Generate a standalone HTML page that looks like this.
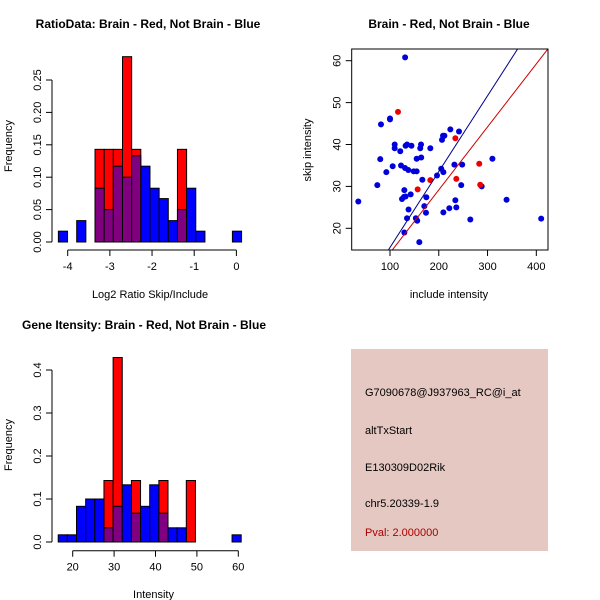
<!DOCTYPE html>
<html><head><meta charset="utf-8"><style>
body{margin:0;background:#fff}
svg{display:block;font-family:"Liberation Sans",sans-serif}
</style></head><body>
<svg id="c" width="600" height="600" viewBox="0 0 600 600" xmlns="http://www.w3.org/2000/svg"></svg>
<script>
// ---- Ratio histogram data (bin index -> frequency) ----
const ratioBlue = [0.0167,0,0.033,0,0.083,0.05,0.117,0.1,0.133,0.117,0.083,0.067,0.033,0.05,0.083,0.0167,0,0,0,0.0167];
const ratioRed  = [0,0,0,0,0.143,0.143,0.143,0.286,0.143,0,0,0,0,0.143,0,0,0,0,0,0];
const ratioBinStart = -4.221, ratioBinWidth = 0.2172;
const ratioXTicks = [-4,-3,-2,-1,0];
const ratioYTicks = [0,0.05,0.10,0.15,0.20,0.25];
const ratioYLabels = ["0.00","0.05","0.10","0.15","0.20","0.25"];
// ---- Intensity histogram data ----
const intBlue = [0.0167,0.0167,0.083,0.1,0.1,0.033,0.083,0.133,0.067,0.083,0.133,0.067,0.033,0.033,0,0,0,0,0,0.0167];
const intRed  = [0,0,0,0,0,0.143,0.429,0,0.143,0,0,0.143,0,0,0.143,0,0,0,0,0];
const intBinStart = 16.5, intBinWidth = 2.21;
const intXTicks = [20,30,40,50,60];
const intYTicks = [0,0.1,0.2,0.3,0.4];
const intYLabels = ["0.0","0.1","0.2","0.3","0.4"];
// ---- Scatter data ----
const blueX = [35,131,81.5,100,100,109.6,109.6,132,135,144,163.6,162,182.7,80,121,105.5,92.5,74,122.6,130.8,137.6,148.5,154.7,154.7,164,166.3,196.4,205,209.4,206.6,208.7,211.5,223.7,241.5,232,248,246,288,310,339,410,129.4,128.7,132,124.6,138,142.4,134.9,153,155.8,129.4,160.1,170.4,174.5,173.8,209.4,221.6,234,236,264.7];
const blueY = [26.4,60.8,44.8,46.2,46.0,40,39.1,39.7,40,39.7,40,39.1,39.1,36.5,38.4,34.8,33.4,30.3,35,34.4,33.9,33.6,33.6,36.6,36.9,31.6,32.6,34.2,33.4,41.1,42.1,42.1,43.6,43.1,35.2,35.2,30.3,30,36.6,26.8,22.3,29.1,27.5,27.6,27,24.5,28.1,22.4,22.4,21.8,19,16.7,25.3,27.4,23.7,23.8,24.8,26.7,25,22.1];
const redX = [116.4,234,156.7,182.7,236,283,285];
const redY = [47.8,41.5,29.3,31.5,31.8,35.4,30.4];
const blueLine = {a:-2.67,b:0.181};
const redLine = {a:-0.92,b:0.1504};
const scXTicks = [100,200,300,400];
const scYTicks = [20,30,40,50,60];

const svg = document.getElementById('c');
const NS = 'http://www.w3.org/2000/svg';
function mk(tag, attrs, parent){ const e=document.createElementNS(NS,tag); for(const k in attrs) e.setAttribute(k,attrs[k]); (parent||svg).appendChild(e); return e; }
function txt(s,x,y,opts,parent){ const t=mk('text',Object.assign({x:x,y:y,'font-size':11,'text-anchor':'middle',fill:'#000'},opts||{}),parent); t.textContent=s; return t; }

function hist(cfg){
  const g = mk('g',{});
  
  
  const sx = v => cfg.x0 + (v - cfg.xv0) * cfg.kx;
  const sy = v => cfg.base - v * cfg.ky;
  cfg.red.forEach((h,i)=>{ if(h<=0) return;
    const x1=sx(cfg.bs+i*cfg.bw), x2=sx(cfg.bs+(i+1)*cfg.bw);
    const r=mk('rect',{x:x1,y:sy(h),width:x2-x1,height:cfg.base-sy(h),fill:'#ff0000',stroke:'#000','stroke-width':1},g);
    
    
  });
  cfg.blue.forEach((h,i)=>{ if(h<=0) return;
    const x1=sx(cfg.bs+i*cfg.bw), x2=sx(cfg.bs+(i+1)*cfg.bw);
    const col = cfg.red[i]>0 ? '#800080' : '#0000ff';
    const r=mk('rect',{x:x1,y:sy(h),width:x2-x1,height:cfg.base-sy(h),fill:col,stroke:'#000','stroke-width':1},g);
    
    
  });
  const xa = mk('g',{},g);
  
  
  mk('line',{x1:sx(cfg.xt[0]),x2:sx(cfg.xt[cfg.xt.length-1]),y1:cfg.xay,y2:cfg.xay,stroke:'#000'},xa);
  cfg.xt.forEach(v=>{ mk('line',{x1:sx(v),x2:sx(v),y1:cfg.xay,y2:cfg.xay+6,stroke:'#000'},xa); txt(String(v),sx(v),cfg.xay+20,{},xa); });
  const ya = mk('g',{},g);
  
  
  mk('line',{x1:cfg.yax,x2:cfg.yax,y1:sy(cfg.yt[0]),y2:sy(cfg.yt[cfg.yt.length-1]),stroke:'#000'},ya);
  cfg.yt.forEach((v,i)=>{ mk('line',{x1:cfg.yax-6,x2:cfg.yax,y1:sy(v),y2:sy(v),stroke:'#000'},ya);
    txt(cfg.yl[i],0,0,{transform:`translate(${cfg.yax-11},${sy(v)}) rotate(-90)`},ya); });
  const t=txt(cfg.title,cfg.tx,cfg.ty,{'font-weight':'bold','font-size':12});
   
  const xl=txt(cfg.xlab,(sx(cfg.xt[0])+sx(cfg.xt[cfg.xt.length-1]))/2 - 2,cfg.xly,{});
   
  const yl=txt('Frequency',0,0,{transform:`translate(12,${cfg.ylc}) rotate(-90)`});
   
}

hist({name:'ratio-histogram',red:ratioRed,blue:ratioBlue,bs:ratioBinStart,bw:ratioBinWidth,
  x0:67.7,xv0:-4,kx:42.17,base:242,ky:648,xt:ratioXTicks,yt:ratioYTicks,yl:ratioYLabels,
  xay:250,yax:52,title:'RatioData: Brain - Red, Not Brain - Blue',tx:148,ty:28,xlab:'Log2 Ratio Skip/Include',xly:298,ylc:146});
hist({name:'intensity-histogram',red:intRed,blue:intBlue,bs:intBinStart,bw:intBinWidth,
  x0:72.7,xv0:20,kx:4.14,base:542,ky:430,xt:intXTicks,yt:intYTicks,yl:intYLabels,
  xay:550.7,yax:52,title:'Gene Itensity: Brain - Red, Not Brain - Blue',tx:144,ty:329,xlab:'Intensity',xly:598,ylc:445});

(function(){
  const L=351.7,R=548,T=49,B=250;
  const sx=v=>390+(v-100)*0.4877, sy=v=>228.3-(v-20)*4.19;
  const g=mk('g',{});
  
  
  mk('defs',{},g).innerHTML='<clipPath id="pc"><rect x="'+L+'" y="'+T+'" width="'+(R-L)+'" height="'+(B-T)+'"/></clipPath>';
  const pts=mk('g',{},g);
  
  
  blueX.forEach((x,i)=>{ const c=mk('circle',{cx:sx(x),cy:sy(blueY[i]),r:3,fill:'#0000dd'},pts);
      });
  redX.forEach((x,i)=>{ const c=mk('circle',{cx:sx(x),cy:sy(redY[i]),r:3,fill:'#ee0000'},pts);
      });
  const lg=mk('g',{'clip-path':'url(#pc)'},g);
  [[blueLine,'#00008b','blue-fit-line'],[redLine,'#cc0000','red-fit-line']].forEach(([ln,col,nm])=>{
    const l=mk('line',{x1:sx(0),y1:sy(ln.a),x2:sx(500),y2:sy(ln.a+ln.b*500),stroke:col,'stroke-width':1},lg);
     
  });
  const box=mk('rect',{x:L,y:T,width:R-L,height:B-T,fill:'none',stroke:'#000'},g);
   
  const xa=mk('g',{},g);  
  scXTicks.forEach(v=>{ mk('line',{x1:sx(v),x2:sx(v),y1:B,y2:B+6,stroke:'#000'},xa); txt(String(v),sx(v),B+20,{},xa); });
  const ya=mk('g',{},g);  
  scYTicks.forEach(v=>{ mk('line',{x1:L-6,x2:L,y1:sy(v),y2:sy(v),stroke:'#000'},ya);
    txt(String(v),0,0,{transform:`translate(${L-11},${sy(v)}) rotate(-90)`},ya); });
  const t=txt('Brain - Red, Not Brain - Blue',449,28,{'font-weight':'bold','font-size':12});
   
  const xl=txt('include intensity',449,298,{});
   
  const yl=txt('skip intensity',0,0,{transform:'translate(311,150) rotate(-90)'});
   
})();
</script>
<svg width="600" height="600" style="position:absolute;left:0;top:0">
  <rect x="351" y="349" width="197" height="202" fill="#e5c8c2"/>
  <g font-family="Liberation Sans, sans-serif" font-size="11" fill="#000">
    <text x="365" y="396">G7090678@J937963_RC@i_at</text>
    <text x="365" y="434">altTxStart</text>
    <text x="365" y="471">E130309D02Rik</text>
    <text x="365" y="507">chr5.20339-1.9</text>
    <text x="365" y="536" fill="#aa0000">Pval: 2.000000</text>
  </g>
</svg>
</body></html>
